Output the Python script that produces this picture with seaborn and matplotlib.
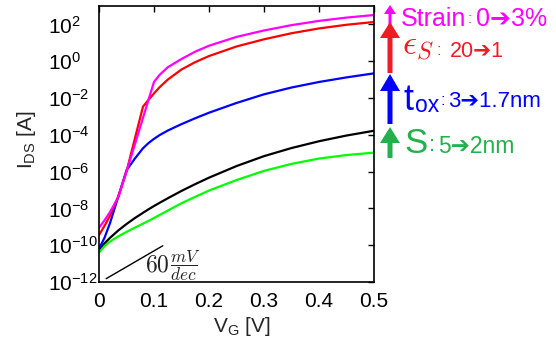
import numpy as np
import pandas as pd
import matplotlib
matplotlib.use("Agg")
import matplotlib.pyplot as plt
import seaborn as sns
from matplotlib.patches import FancyArrow

# ---------------- data (log10 of I_DS in A) ----------------
vg = [0, 0.01, 0.02, 0.035, 0.05, 0.065, 0.08, 0.09, 0.1, 0.11, 0.125, 0.15,
      0.175, 0.2, 0.25, 0.3, 0.35, 0.4, 0.45, 0.5]
log_strain = [-9.05, -8.65, -8.2, -7.4, -6.0, -4.55, -3.08, -2.1, -1.13, -0.75, -0.33, 0.12,
              0.52, 0.84, 1.32, 1.67, 1.96, 2.19, 2.37, 2.51]
log_eps = [-9.45, -8.95, -8.4, -7.35, -6.0, -4.23, -2.47, -2.1, -1.75, -1.42, -1.0, -0.45,
           -0.05, 0.28, 0.8, 1.19, 1.52, 1.78, 1.98, 2.13]
log_tox = [-10.2, -9.6, -8.8, -7.37, -5.93, -5.3, -4.73, -4.45, -4.22, -4.02, -3.77, -3.42,
           -3.1, -2.8, -2.27, -1.8, -1.43, -1.13, -0.88, -0.66]
log_base = [-10.26, -9.9, -9.6, -9.2, -8.85, -8.53, -8.24, -8.05, -7.87, -7.7, -7.45, -7.05,
            -6.68, -6.33, -5.7, -5.16, -4.72, -4.35, -4.04, -3.78]
log_body = [-10.4, -10.05, -9.8, -9.52, -9.28, -9.05, -8.83, -8.68, -8.52, -8.36, -8.12, -7.72,
            -7.37, -7.03, -6.46, -5.96, -5.58, -5.29, -5.1, -4.97]

series_names = ["base", "body", "tox", "eps", "strain"]
series_colors = ["#000000", "#00ff00", "#0000ff", "#ff0000", "#ff00ff"]

slope_vg = [0.013, 0.116]
slope_log = [-11.82, -10.03]

xtick_vals = [0, 0.1, 0.2, 0.3, 0.4, 0.5]
xtick_labels = ["0", "0.1", "0.2", "0.3", "0.4", "0.5"]
ytick_exps = [-12, -10, -8, -6, -4, -2, 0, 2]

# ---------------- build table ----------------
frames = []
for name, vals in zip(series_names, [log_base, log_body, log_tox, log_eps, log_strain]):
    frames.append(pd.DataFrame({"vg": vg, "ids": np.power(10.0, vals), "series": name}))
df = pd.concat(frames, ignore_index=True)

sns.set_theme(style="white")
plt.rcParams["font.family"] = ["Liberation Sans", "DejaVu Sans"]

W, H = 556, 348
fig = plt.figure(figsize=(W / 100, H / 100), dpi=100)
ax = fig.add_axes([99 / W, 1 - 282 / H, 275 / W, 276 / H])

sns.lineplot(data=df, x="vg", y="ids", hue="series", hue_order=series_names,
             palette=dict(zip(series_names, series_colors)), estimator=None,
             sort=False, lw=1.6, legend=False, ax=ax)

ax.plot(slope_vg, np.power(10.0, slope_log), color="black", lw=1.0)

ax.set_yscale("log")
ax.set_xlim(0, 0.5)
ax.set_ylim(1e-12, 1e3)
ax.set_xticks(xtick_vals)
ax.set_xticklabels(xtick_labels)
ax.set_yticks([10.0 ** e for e in ytick_exps])
ax.set_yticklabels([r"$\mathregular{10^{%d}}$" % e for e in ytick_exps])
ax.yaxis.set_minor_locator(matplotlib.ticker.NullLocator())
ax.set_xlabel("")
ax.set_ylabel("")

for s in ax.spines.values():
    s.set_color("black")
    s.set_linewidth(1.2)
ax.tick_params(which="both", direction="in", top=True, right=True, length=4,
               width=1.0, color="black", labelsize=15, labelcolor="black")
ax.tick_params(axis="x", pad=7)
ax.tick_params(axis="y", pad=37)
for lbl in ax.get_yticklabels():
    lbl.set_horizontalalignment("left")

ax.text(0.083, 10 ** -11.13, r"$60$", math_fontfamily="cm",
        fontsize=17, ha="left", va="center", color="#222222")
ax.text(0.129, 10 ** -11.13, r"$\dfrac{mV}{dec}$", math_fontfamily="cm",
        fontsize=12.5, ha="left", va="center", color="#222222")

# axis labels
fig.text(26 / W, 1 - 140 / H, r"$\mathregular{I_{DS}}$ [A]", rotation=90,
         ha="center", va="center", fontsize=15)
fig.text(242 / W, 1 - 331.5 / H, r"$\mathregular{V_G}$ [V]", ha="center",
         va="baseline", fontsize=15)

# ---------------- right-hand annotations ----------------
def arrow(xc, ytail, ytip, shaft, head_w, head_l, color):
    a = FancyArrow(xc / W, 1 - ytail / H, 0, (ytail - ytip) / H,
                   width=shaft / W, head_width=head_w / W, head_length=head_l / H,
                   length_includes_head=True, color=color, lw=0,
                   transform=fig.transFigure)
    fig.patches.append(a)

def txt(x, yb, s, size, color, **kw):
    fig.text(x / W, 1 - yb / H, s, fontsize=size, color=color, ha="left",
             va="baseline", **kw)

mag, red, blu, grn = "#ff00ff", "#ee1c24", "#0000ff", "#22b14c"
ARW = "\u2794"

arrow(390, 25, 5, 3, 12, 9, mag)
txt(401, 25.5, "Strain", 18, mag)
txt(467.5, 23, ":", 11, mag)
txt(476, 25.5, "0" + ARW + "3%", 18, mag)

arrow(390, 73, 22, 5, 20, 16, red)
txt(402, 55, r"$\epsilon_S$", 25, red, math_fontfamily="cm")
txt(437, 55, ":", 12, red)
txt(450, 57, "20" + ARW + "1", 15.5, red)

arrow(390, 124, 74, 5, 20, 17, blu)
txt(403, 110, "t", 26, blu)
txt(415, 112, "ox", 16.5, blu)
txt(440, 105, ":", 12, blu)
txt(448, 107, "3" + ARW + "1.7nm", 16, blu)

arrow(390, 158, 127, 5, 20, 16, grn)
txt(404, 153, "S", 25, grn)
txt(429, 151, ":", 16, grn)
txt(438, 153, "5" + ARW + "2nm", 16.5, grn)

fig.savefig("out.png", dpi=100)
